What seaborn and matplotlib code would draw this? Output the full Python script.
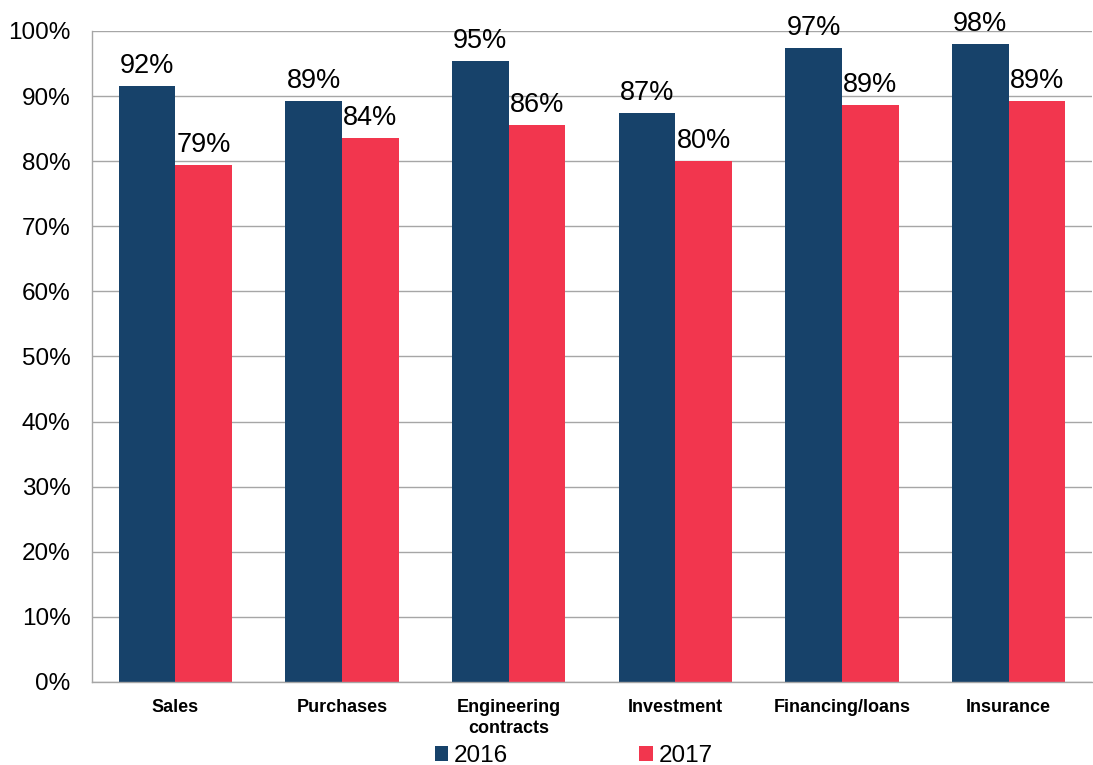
"""Share of respondents by transaction type, 2016 vs 2017."""
import matplotlib
matplotlib.use("Agg")
import matplotlib.pyplot as plt
import numpy as np
import pandas as pd
import seaborn as sns
from matplotlib.patches import Patch
from matplotlib.ticker import FixedLocator, PercentFormatter

# ── data ────────────────────────────────────────────────────────────
categories = ["Sales", "Purchases", "Engineering\ncontracts", "Investment",
              "Financing/loans", "Insurance"]
years = ["2016", "2017"]
values_2016 = [91.6, 89.3, 95.4, 87.4, 97.4, 98.0]
values_2017 = [79.4, 83.6, 85.6, 80.0, 88.6, 89.2]

colors = {"2016": "#17426A", "2017": "#F2364E"}
grid_gray = "#A6A6A6"

df = pd.DataFrame({
    "category": categories * 2,
    "year": ["2016"] * len(categories) + ["2017"] * len(categories),
    "share": values_2016 + values_2017,
})

# ── plot ────────────────────────────────────────────────────────────
sns.set_style("white")
plt.rcParams["font.family"] = ["Liberation Sans", "DejaVu Sans"]
plt.rcParams["text.color"] = "black"
plt.rcParams["xtick.labelcolor"] = "black"
plt.rcParams["ytick.labelcolor"] = "black"

fig = plt.figure(figsize=(10.93, 7.65), dpi=100)
ax = fig.add_axes([0.0842, 0.1085, 0.9148, 0.851])

sns.barplot(data=df, x="category", y="share", hue="year", order=categories,
            hue_order=years, palette=colors, width=0.68, saturation=1,
            linewidth=0, legend=False, ax=ax)

for container in ax.containers:
    ax.bar_label(container, labels=[f"{v:.0f}%" for v in container.datavalues],
                 padding=5, fontsize=19.5, color="black")

ax.set_ylim(0, 100)
ax.set_xlim(-0.5, len(categories) - 0.5)
ax.set_yticks(np.arange(0, 101, 10))
ax.yaxis.set_major_formatter(PercentFormatter(decimals=0))
ax.yaxis.grid(True, color=grid_gray, linewidth=1)
ax.set_axisbelow(True)

# category boundaries get the tick marks, the labels sit unticked
ax.xaxis.set_minor_locator(FixedLocator(np.arange(-0.5, len(categories), 1.0)))
ax.tick_params(axis="x", which="major", length=0, pad=12, labelsize=13)
ax.tick_params(axis="x", which="minor", length=5, color=grid_gray, direction="out")
ax.tick_params(axis="y", length=5.5, color=grid_gray, direction="out", labelsize=17.5, pad=10)
for lbl in ax.get_xticklabels():
    lbl.set_fontweight("bold")
    lbl.set_linespacing(1.3)

ax.set_xlabel("")
ax.set_ylabel("")
for side in ("top", "right"):
    ax.spines[side].set_visible(False)
for side in ("left", "bottom"):
    ax.spines[side].set_color(grid_gray)
    ax.spines[side].set_linewidth(1)

handles = [Patch(facecolor=colors[y], edgecolor="none") for y in years]
fig.legend(handles, years, loc="center", bbox_to_anchor=(0.525, 0.012), ncol=2,
           frameon=False, fontsize=17.5, handlelength=0.55, handleheight=0.55,
           handletextpad=0.25, columnspacing=5.4)

fig.savefig("out.png", dpi=100)
